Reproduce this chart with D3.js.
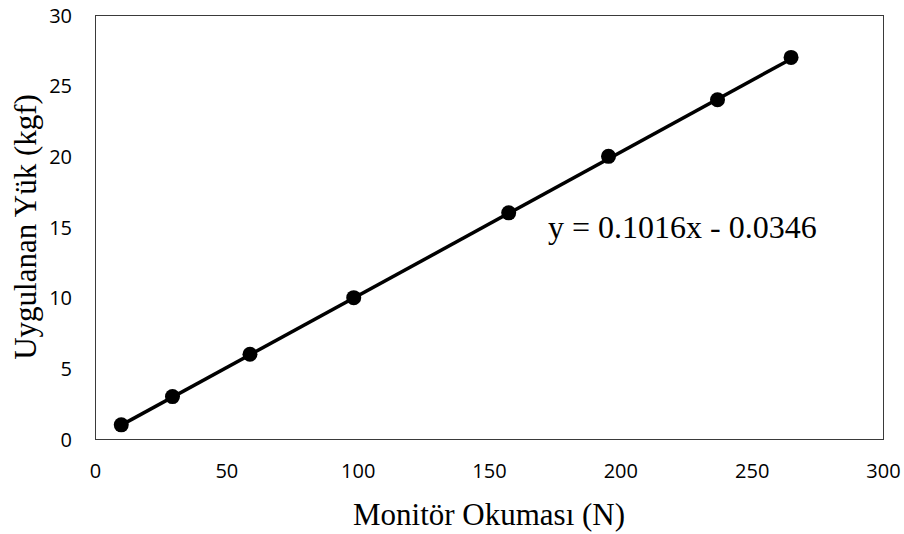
<!DOCTYPE html>
<html>
<head>
<meta charset="utf-8">
<script src="https://cdn.jsdelivr.net/npm/d3@7"></script>
<style>
  html, body { margin: 0; padding: 0; background: #fff; }
  svg { display: block; }
</style>
</head>
<body>
<svg id="chart" width="904" height="534"></svg>
<script>
// Calibration readings: monitor value (N) vs applied load (kgf)
const monitorN = [10, 29.5, 59, 98.5, 157.5, 195.5, 237, 265];
const loadKgf = [1, 3, 6, 10, 16, 20, 24, 27];
const xTicks = [0, 50, 100, 150, 200, 250, 300];
const yTicks = [0, 5, 10, 15, 20, 25, 30];
// Linear fit
const slope = 0.1016;
const intercept = -0.0346;
const fitLabel = "y = 0.1016x - 0.0346";
const xTitle = "Monitör Okuması (N)";
const yTitle = "Uygulanan Yük (kgf)";

const svg = d3.select("#chart");
const plot = { left: 95, right: 883, top: 15, bottom: 439 };

const x = d3.scaleLinear().domain([0, 300]).range([plot.left, plot.right]);
const y = d3.scaleLinear().domain([0, 30]).range([plot.bottom, plot.top]);

// Plot frame
svg.append("rect")
  .attr("x", plot.left + 0.5).attr("y", plot.top + 0.5)
  .attr("width", plot.right - plot.left).attr("height", plot.bottom - plot.top)
  .attr("fill", "none").attr("stroke", "#3a3a3a").attr("stroke-width", 1);

const tickFont = "'Open Sans', 'Noto Sans', sans-serif";

// X axis labels
const xAxis = d3.axisBottom(x).tickValues(xTicks).tickSize(0).tickPadding(0);
const gx = svg.append("g").attr("transform", `translate(0,${plot.bottom})`).call(xAxis);
gx.select(".domain").remove();
gx.selectAll("text")
  .attr("dy", null).attr("y", 39)
  .style("font-family", tickFont).style("font-size", "20px").attr("fill", "#000");

// Y axis labels
const yAxis = d3.axisLeft(y).tickValues(yTicks).tickSize(0).tickPadding(0);
const gy = svg.append("g").attr("transform", `translate(${plot.left},0)`).call(yAxis);
gy.select(".domain").remove();
gy.selectAll("text")
  .attr("x", -23).attr("dy", "0.36em")
  .style("font-family", tickFont).style("font-size", "20px").attr("fill", "#000");

// Trend line over the data range
const x0 = d3.min(monitorN), x1 = d3.max(monitorN);
svg.append("line")
  .attr("x1", x(x0)).attr("y1", y(slope * x0 + intercept))
  .attr("x2", x(x1)).attr("y2", y(slope * x1 + intercept))
  .attr("stroke", "#000").attr("stroke-width", 3.5);

// Markers
svg.append("g").selectAll("circle")
  .data(monitorN.map((v, i) => [v, loadKgf[i]]))
  .join("circle")
  .attr("cx", d => x(d[0])).attr("cy", d => y(d[1]))
  .attr("r", 7.5).attr("fill", "#000");

const serif = "'Liberation Serif', 'DejaVu Serif', serif";

// Fit equation
svg.append("text")
  .attr("x", 548).attr("y", 238)
  .style("font-family", serif).style("font-size", "32px")
  .text(fitLabel);

// Axis titles
svg.append("text")
  .attr("x", (plot.left + plot.right) / 2).attr("y", 525)
  .attr("text-anchor", "middle")
  .style("font-family", serif).style("font-size", "31px")
  .text(xTitle);

svg.append("text")
  .attr("transform", `translate(36,${(plot.top + plot.bottom) / 2}) rotate(-90)`)
  .attr("text-anchor", "middle")
  .style("font-family", serif).style("font-size", "31px")
  .text(yTitle);
</script>
</body>
</html>
